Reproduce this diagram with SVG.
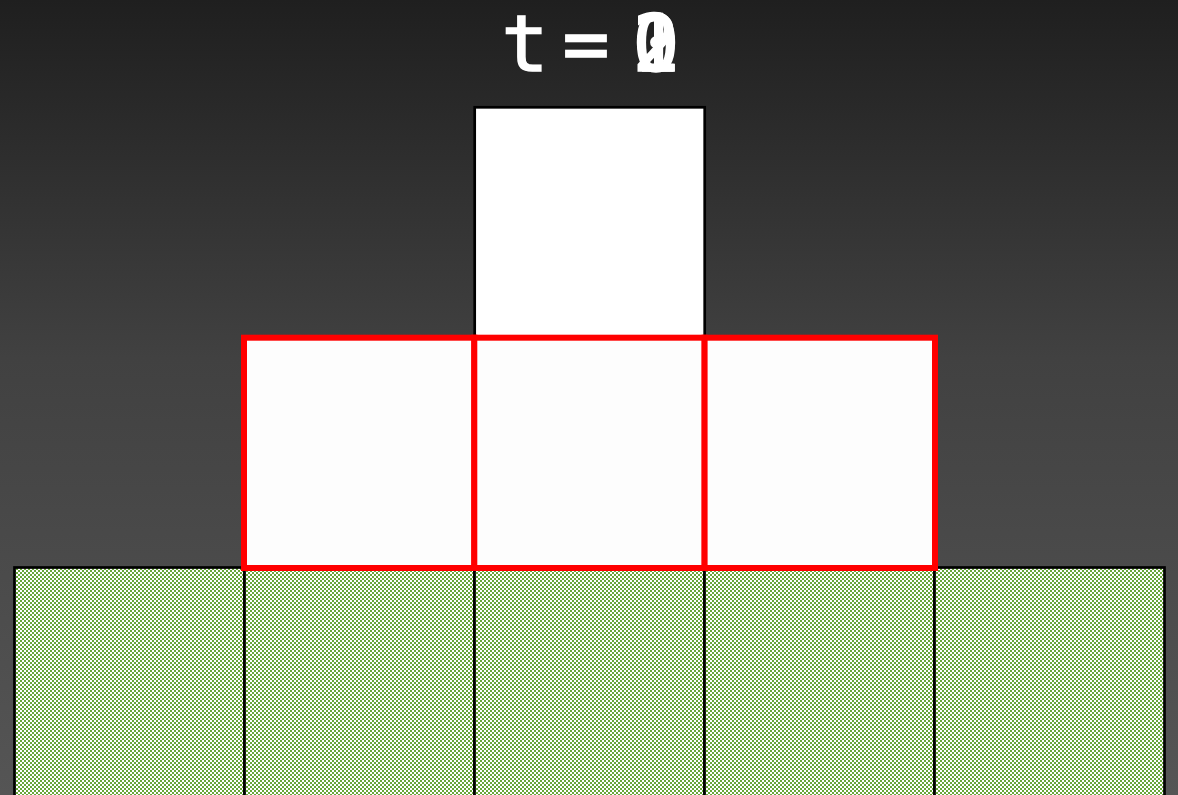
<svg xmlns="http://www.w3.org/2000/svg" width="1178" height="795" viewBox="0 0 1178 795">
  <defs>
    <linearGradient id="bg" x1="0" y1="0" x2="0" y2="1">
      <stop offset="0" stop-color="#1f1f1f"/>
      <stop offset="0.45" stop-color="#414141"/>
      <stop offset="1" stop-color="#555555"/>
    </linearGradient>
    <pattern id="check" x="0" y="0" width="4" height="4" patternUnits="userSpaceOnUse">
      <rect x="0" y="0" width="4" height="4" fill="#ffffff"/>
      <rect x="0" y="0" width="2" height="2" fill="#68a63a"/>
      <rect x="2" y="2" width="2" height="2" fill="#68a63a"/>
    </pattern>
  </defs>
  <style>
    .ground { fill: url(#check); stroke: #000; stroke-width: 2.7; }
    .block { fill: #ffffff; stroke: #000; stroke-width: 2.7; }
    .sel { fill: #fdfdfd; stroke: #ff0000; stroke-width: 6; }
    .lbl { font-family: "DejaVu Sans Mono", monospace; font-size: 78px; fill: #ffffff; stroke: #ffffff; stroke-width: 1.5; text-anchor: middle; }
  </style>
  <rect x="0" y="0" width="1178" height="795" fill="url(#bg)"/>

  <g id="title">
    <text class="lbl" x="525" y="71">t</text>
    <text class="lbl" x="586" y="71">=</text>
    <text class="lbl" x="656" y="71">0</text>
    <text class="lbl" x="656" y="71">1</text>
    <text class="lbl" x="656" y="71">2</text>
  </g>

  <g id="ground-1"><rect class="ground" x="14.5" y="567.5" width="230" height="240"/></g>
  <g id="ground-2"><rect class="ground" x="244.5" y="567.5" width="230" height="240"/></g>
  <g id="ground-3"><rect class="ground" x="474.5" y="567.5" width="230" height="240"/></g>
  <g id="ground-4"><rect class="ground" x="704.5" y="567.5" width="230" height="240"/></g>
  <g id="ground-5"><rect class="ground" x="934.5" y="567.5" width="230" height="240"/></g>

  <g id="top-block"><rect class="block" x="474.7" y="107.3" width="230" height="230.4"/></g>

  <g id="sel-1"><rect class="sel" x="244" y="337.7" width="230.3" height="230.3"/></g>
  <g id="sel-2"><rect class="sel" x="474.3" y="337.7" width="230.3" height="230.3"/></g>
  <g id="sel-3"><rect class="sel" x="704.6" y="337.7" width="230.4" height="230.3"/></g>

  <g id="connectors"></g>
</svg>
